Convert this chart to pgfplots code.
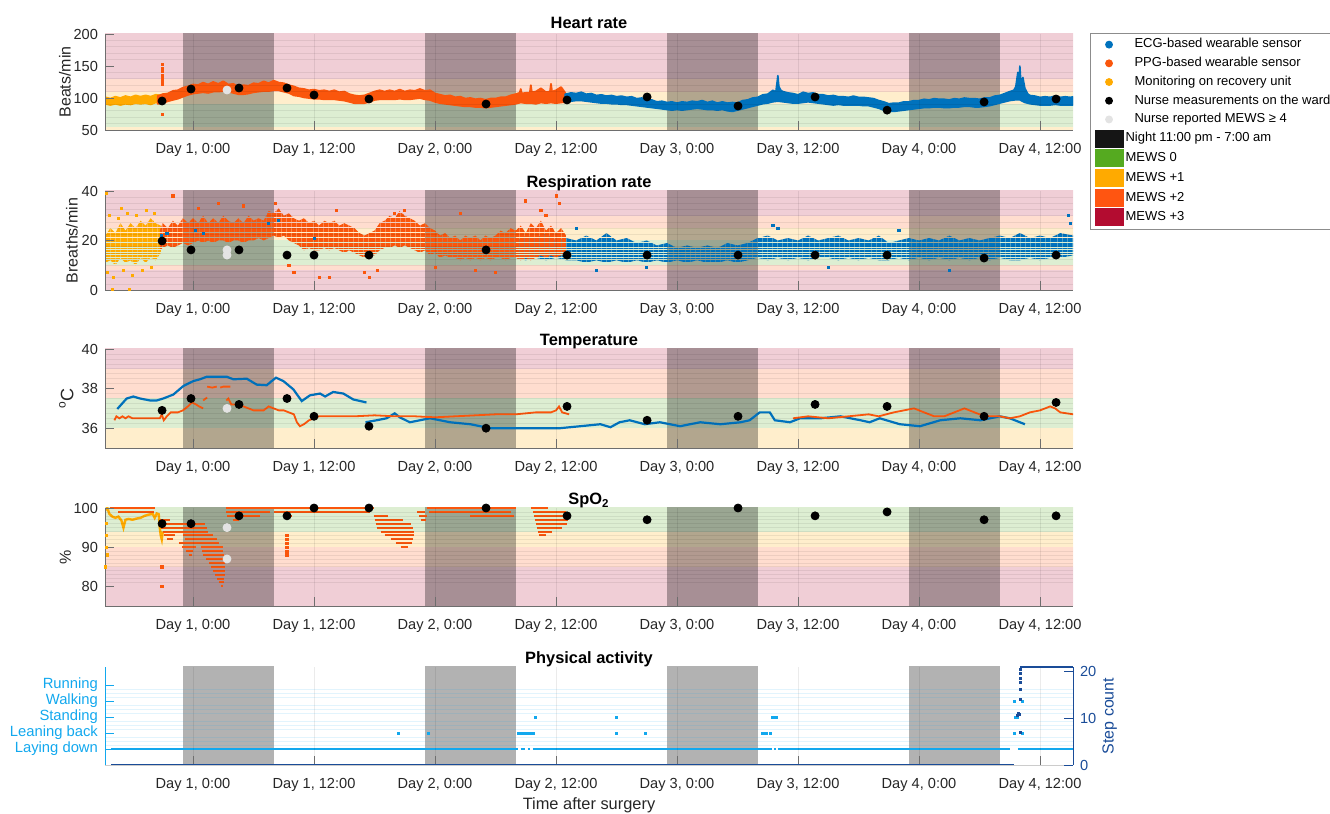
\documentclass[border=0pt]{standalone}
\usepackage{fontspec}
\setmainfont{Liberation Sans}
\usepackage{pgfplots}
\pgfplotsset{compat=1.18}
\usetikzlibrary{patterns.meta}
\definecolor{ecgblue}{HTML}{0072BD}
\definecolor{ppgorange}{HTML}{FA560C}
\definecolor{recyellow}{HTML}{FFAA00}
\definecolor{greydot}{HTML}{E3E3E3}
\definecolor{night}{HTML}{151515}
\definecolor{mewsz}{HTML}{55AA20}
\definecolor{mewsa}{HTML}{FFAA00}
\definecolor{mewsb}{HTML}{FF5511}
\definecolor{mewsc}{HTML}{B30C30}
\definecolor{ticktext}{HTML}{262626}
\definecolor{axisgray}{HTML}{6E6E6E}
\definecolor{actblue}{HTML}{12A8EE}
\definecolor{stepblue}{HTML}{1A4C98}
\newcommand{\band}[3]{\addplot[fill=#1!20!white, draw=none, forget plot] coordinates {(-20,#2) (100,#2) (100,#3) (-20,#3)} --cycle;}
\newcommand{\nights}[2]{%
\addplot[fill=black, fill opacity=0.3, draw=none, forget plot] coordinates {(-1,#1) (8,#1) (8,#2) (-1,#2)} --cycle;
\addplot[fill=black, fill opacity=0.3, draw=none, forget plot] coordinates {(23,#1) (32,#1) (32,#2) (23,#2)} --cycle;
\addplot[fill=black, fill opacity=0.3, draw=none, forget plot] coordinates {(47,#1) (56,#1) (56,#2) (47,#2)} --cycle;
\addplot[fill=black, fill opacity=0.3, draw=none, forget plot] coordinates {(71,#1) (80,#1) (80,#2) (71,#2)} --cycle;}
\pgfplotsset{
 panel/.style={
  scale only axis, width=484pt, height=49pt,
  xmin=-8.73, xmax=87.27,
  xtick={0,12,24,36,48,60,72,84},
  xticklabels={{Day 1, 0:00},{Day 1, 12:00},{Day 2, 0:00},{Day 2, 12:00},{Day 3, 0:00},{Day 3, 12:00},{Day 4, 0:00},{Day 4, 12:00}},
  axis x line*=bottom, axis y line*=left,
  tick align=inside, major tick length=4.5pt, minor tick length=0pt,
  tick style={axisgray, line width=0.4pt},
  axis line style={axisgray, line width=0.45pt},
  tick label style={font=\fontsize{7.3}{8}\selectfont, text=ticktext},
  xticklabel style={yshift=-3pt},
  label style={font=\fontsize{8}{9}\selectfont, text=ticktext},
  title style={font=\bfseries\fontsize{8.2}{9}\selectfont, at={(0.5,1)}, anchor=base, yshift=-4.5pt, text=black},
  xmajorgrids, major grid style={black, opacity=0.08, line width=0.3pt},
  yminorgrids, minor grid style={black, opacity=0.07, line width=0.3pt},
  axis on top, unbounded coords=jump,
  /pgf/number format/assume math mode=true,
  ylabel style={anchor=center},
 },
 dots/.style={only marks, mark=*, mark size=2pt, forget plot},
 rrpat/.style={draw=none, pattern={Lines[angle=0,distance=1.24pt,line width=0.92pt]}, pattern color=#1, forget plot},
}
\begin{document}
\begin{tikzpicture}
\useasboundingbox (0,0) rectangle (665pt,407pt);
%================ HEART RATE
\begin{axis}[panel, at={(52.5pt,342pt)}, anchor=south west, height=48pt,
  ymin=50, ymax=200, ytick={50,100,150,200}, minor y tick num=4,
  ylabel={Beats/min}, ylabel style={at={(axis description cs:-0.0413,0.5)}},
  title={Heart rate}, title style={yshift=1pt},
  legend style={at={(1.0176,1.01)}, anchor=north west, font=\fontsize{6.5}{7}\selectfont,
    draw=black!45, line width=0.5pt, inner xsep=2pt, inner ysep=1.3pt, row sep=0.85pt,
    nodes={inner ysep=1pt, inner xsep=1pt, text height=4.9pt, text depth=1.6pt}},
  legend cell align=left]
\band{mewsa}{40}{55}
\band{mewsz}{55}{90}
\band{mewsa}{90}{110}
\band{mewsb}{110}{130}
\band{mewsc}{130}{210}
\nights{40}{210}
% recovery unit
\addplot[fill=recyellow, draw=recyellow, line width=0.9pt, line join=round, forget plot] coordinates {
(-8.7,101)(-8.2,99)(-7.7,102)(-7.2,100)(-6.7,103)(-6.2,101)(-5.7,104)(-5.2,102)(-4.7,104)(-4.2,102)(-3.7,105)(-3.2,104)
(-3.2,92)(-3.7,93)(-4.2,90)(-4.7,92)(-5.2,91)(-5.7,92)(-6.2,90)(-6.7,91)(-7.2,89)(-7.7,91)(-8.2,89)(-8.7,91)} --cycle;
% PPG
\addplot[fill=ppgorange, draw=ppgorange, line width=0.9pt, line join=round, forget plot] coordinates {
(-3.5,103)(-3.0,106)(-2.5,107)(-2.0,111)(-1.5,112)(-1.0,116)(-0.5,118)(0.0,121)(0.5,120)(1.0,124)(1.5,121)(2.0,125)(2.5,122)(3.0,126)(3.5,121)(4.0,122)(4.5,117)(5.0,120)(5.5,119)(6.0,123)(6.5,122)(7.0,126)(7.5,123)(8.0,127)(8.5,124)(9.0,123)(9.5,120)(10.0,118)(10.5,115)(11.0,114)(11.5,112)(12.0,113)(12.5,111)(13.0,112)(13.5,110)(14.0,112)(14.5,109)(15.0,110)(15.5,106)(16.0,104)(16.5,103)(17.0,104)(17.5,107)(18.0,110)(18.5,112)(19.0,110)(19.5,112)(20.0,110)(20.5,113)(21.0,110)(21.5,112)(22.0,111)(22.5,114)(23.0,111)(23.5,112)(24.0,107)(24.5,105)(25.0,103)(25.5,104)(26.0,101)(26.5,102)(27.0,99)(27.5,100)(28.0,98)(28.5,99)(29.0,97)(29.5,99)(30.0,99)(30.5,101)(31.0,101)(31.5,104)(32.0,106)(32.4,108)(32.5,114)(32.6,107)(33.0,108)(33.4,108)(33.5,120)(33.6,109)(34.0,110)(34.5,115)(35.0,109)(35.4,110)(35.5,122)(35.6,110)(36.0,112)(36.5,117)(37.0,106)
(37.0,94)(36.5,93)(36.0,92)(35.5,93)(35.0,92)(34.5,93)(34.0,91)(33.5,92)(33.0,92)(32.5,93)(32.0,91)(31.5,90)(31.0,89)(30.5,88)(30.0,87)(29.5,86)(29.0,85)(28.5,86)(28.0,86)(27.5,87)(27.0,87)(26.5,88)(26.0,89)(25.5,90)(25.0,91)(24.5,92)(24.0,94)(23.5,97)(23.0,98)(22.5,100)(22.0,99)(21.5,98)(21.0,98)(20.5,99)(20.0,98)(19.5,98)(19.0,98)(18.5,98)(18.0,97)(17.5,94)(17.0,92)(16.5,92)(16.0,92)(15.5,94)(15.0,96)(14.5,97)(14.0,98)(13.5,98)(13.0,98)(12.5,99)(12.0,99)(11.5,100)(11.0,101)(10.5,103)(10.0,104)(9.5,108)(9.0,110)(8.5,112)(8.0,112)(7.5,111)(7.0,111)(6.5,110)(6.0,109)(5.5,107)(5.0,106)(4.5,106)(4.0,108)(3.5,110)(3.0,111)(2.5,110)(2.0,110)(1.5,108)(1.0,109)(0.5,108)(0.0,107)(-0.5,105)(-1.0,102)(-1.5,99)(-2.0,97)(-2.5,95)(-3.0,92)(-3.5,91)} --cycle;
\addplot[only marks, mark=square*, mark size=0.5pt, ppgorange, forget plot] coordinates {(-3.0,152)(-3.0,147)(-3.0,141)(-3.0,136)(-3.0,131)(-3.0,126)(-3.0,121)(-3.0,75)};
% ECG
\addplot[fill=ecgblue, draw=ecgblue, line width=0.8pt, line join=round, forget plot] coordinates {
(36.9,106)(37.5,108)(38.0,107)(38.5,109)(39.0,106)(39.5,107)(40.0,104)(40.5,105)(41.0,103)(41.5,104)(42.0,102)(42.5,103)(43.0,101)(43.5,102)(44.0,99)(44.5,100)(45.0,97)(45.5,97)(46.0,94)(46.5,95)(47.0,93)(47.5,94)(48.0,92)(48.5,94)(49.0,93)(49.5,95)(50.0,94)(50.5,96)(51.0,93)(51.5,95)(52.0,92)(52.5,94)(53.0,92)(53.5,93)(54.0,92)(54.5,96)(55.0,97)(55.5,100)(56.0,101)(56.5,105)(57.0,106)(57.5,112)(57.8,110)(57.9,122)(58.0,135)(58.1,118)(58.3,112)(58.5,110)(59.0,108)(59.5,107)(60.0,105)(60.5,109)(61.0,107)(61.5,108)(62.0,105)(62.5,105)(63.0,103)(63.5,104)(64.0,102)(64.5,102)(65.0,101)(65.5,103)(66.0,101)(66.5,101)(67.0,100)(67.5,99)(68.0,96)(68.5,94)(69.0,91)(69.5,92)(70.0,92)(70.5,94)(71.0,94)(71.5,96)(72.0,96)(72.5,98)(73.0,97)(73.5,99)(74.0,98)(74.5,98)(75.0,97)(75.5,99)(76.0,98)(76.5,100)(77.0,99)(77.5,99)(78.0,98)(78.5,100)(79.0,100)(79.5,103)(80.0,104)(80.5,107)(81.0,110)(81.4,112)(81.6,118)(81.8,140)(81.9,122)(82.0,150)(82.1,125)(82.3,132)(82.5,115)(82.8,106)(83.0,104)(83.5,103)(84.0,101)(84.5,102)(85.0,101)(85.5,103)(86.0,101)(86.5,102)(87.0,101)(87.3,102)
(87.3,89)(87.0,89)(86.5,89)(86.0,89)(85.5,90)(85.0,89)(84.5,89)(84.0,89)(83.5,90)(83.0,91)(82.5,93)(82.0,97)(81.5,97)(81.0,96)(80.5,94)(80.0,92)(79.5,90)(79.0,88)(78.5,87)(78.0,86)(77.5,86)(77.0,87)(76.5,87)(76.0,86)(75.5,86)(75.0,85)(74.5,85)(74.0,86)(73.5,86)(73.0,85)(72.5,85)(72.0,84)(71.5,83)(71.0,82)(70.5,81)(70.0,80)(69.5,79)(69.0,79)(68.5,81)(68.0,84)(67.5,86)(67.0,88)(66.5,88)(66.0,89)(65.5,89)(65.0,89)(64.5,89)(64.0,90)(63.5,89)(63.0,90)(62.5,91)(62.0,92)(61.5,93)(61.0,94)(60.5,93)(60.0,92)(59.5,92)(59.0,93)(58.5,94)(58.0,95)(57.5,94)(57.0,92)(56.5,91)(56.0,89)(55.5,87)(55.0,85)(54.5,83)(54.0,81)(53.5,79)(53.0,80)(52.5,82)(52.0,81)(51.5,82)(51.0,82)(50.5,83)(50.0,84)(49.5,83)(49.0,82)(48.5,81)(48.0,82)(47.5,81)(47.0,82)(46.5,83)(46.0,84)(45.5,85)(45.0,86)(44.5,87)(44.0,88)(43.5,89)(43.0,90)(42.5,90)(42.0,91)(41.5,91)(41.0,92)(40.5,92)(40.0,93)(39.5,94)(39.0,95)(38.5,96)(38.0,96)(37.5,95)(36.9,94)} --cycle;
\addplot[dots, black] coordinates {(-3.07,95.3)(-0.2,114)(4.56,115.6)(9.32,115.6)(12.0,104.7)(17.45,98.4)(29.06,90.6)(37.09,96.9)(45.03,101.6)(54.05,87.5)(61.69,101.6)(68.83,81)(78.45,93.8)(85.59,98.4)};
\addplot[dots, greydot] coordinates {(3.37,112.5)};
% legend
\addlegendimage{legend image code/.code={\path[draw=none] (0pt,-4.25pt) rectangle (14pt,4.25pt); \fill[ecgblue] (7pt,0pt) circle (1.7pt);}}
\addlegendentry{\hspace{4.5pt}ECG-based wearable sensor}
\addlegendimage{legend image code/.code={\path[draw=none] (0pt,-4.25pt) rectangle (14pt,4.25pt); \fill[ppgorange] (7pt,0pt) circle (1.7pt);}}
\addlegendentry{\hspace{4.5pt}PPG-based wearable sensor}
\addlegendimage{legend image code/.code={\path[draw=none] (0pt,-4.25pt) rectangle (14pt,4.25pt); \fill[recyellow] (7pt,0pt) circle (1.7pt);}}
\addlegendentry{\hspace{4.5pt}Monitoring on recovery unit}
\addlegendimage{legend image code/.code={\path[draw=none] (0pt,-4.25pt) rectangle (14pt,4.25pt); \fill[black] (7pt,0pt) circle (1.7pt);}}
\addlegendentry{\hspace{4.5pt}Nurse measurements on the ward}
\addlegendimage{legend image code/.code={\path[draw=none] (0pt,-4.25pt) rectangle (14pt,4.25pt); \fill[greydot] (7pt,0pt) circle (1.7pt);}}
\addlegendentry{\hspace{4.5pt}Nurse reported MEWS ≥ 4}
\addlegendimage{legend image code/.code={\fill[night] (0pt,-4.25pt) rectangle (14pt,4.25pt);}}
\addlegendentry{Night 11:00 pm - 7:00 am}
\addlegendimage{legend image code/.code={\fill[mewsz] (0pt,-4.25pt) rectangle (14pt,4.25pt);}}
\addlegendentry{MEWS 0}
\addlegendimage{legend image code/.code={\fill[mewsa] (0pt,-4.25pt) rectangle (14pt,4.25pt);}}
\addlegendentry{MEWS +1}
\addlegendimage{legend image code/.code={\fill[mewsb] (0pt,-4.25pt) rectangle (14pt,4.25pt);}}
\addlegendentry{MEWS +2}
\addlegendimage{legend image code/.code={\fill[mewsc] (0pt,-4.25pt) rectangle (14pt,4.25pt);}}
\addlegendentry{MEWS +3}
\end{axis}
%================ RESPIRATION
\begin{axis}[panel, at={(52.5pt,262pt)}, anchor=south west, height=49.5pt,
  ymin=0, ymax=40, ytick={0,20,40}, minor y tick num=7,
  ylabel={Breaths/min}, ylabel style={at={(axis description cs:-0.0341,0.5)}},
  title={Respiration rate}]
\band{mewsc}{-5}{8}
\band{mewsb}{8}{10}
\band{mewsz}{10}{20}
\band{mewsa}{20}{25}
\band{mewsb}{25}{30}
\band{mewsc}{30}{45}
\nights{-5}{45}
\addplot[rrpat=recyellow] coordinates {
(-8.7,22)(-8.2,25)(-7.7,23)(-7.2,27)(-6.7,24)(-6.2,27)(-5.7,25)(-5.2,28)(-4.7,26)(-4.2,29)(-3.7,27)(-3.2,26)
(-3.2,15)(-3.7,12)(-4.2,13)(-4.7,11)(-5.2,13)(-5.7,10)(-6.2,12)(-6.7,11)(-7.2,13)(-7.7,10)(-8.2,12)(-8.7,11)} --cycle;
\addplot[only marks, mark=square*, mark size=0.55pt, recyellow, forget plot] coordinates {(-8.5,7)(-8.3,30)(-7.9,5)(-7.4,29)(-6.9,8)(-6.5,31)(-6.0,6)(-5.6,30)(-5.0,8)(-4.6,32)(-4.1,9)(-3.8,31)(-8.0,0.3)(-6.3,0.3)(-8.6,39)(-7.1,33)};
\addplot[rrpat=ecgblue] coordinates {
(32,20)(33,22)(34,21)(35,23)(36,20)(37,21)(38,20)(39,22)(40,20)(41,23)(42,20)(43,21)(44,19)(45,20)(46,18)(47,19)(48,17)(49,18)(50,17)(51,18)(52,17)(53,19)(54,18)(55,19)(56,21)(57,22)(58,20)(59,21)(60,20)(61,22)(62,20)(63,21)(64,22)(65,20)(66,21)(67,20)(68,22)(69,19)(70,20)(71,21)(72,20)(73,21)(74,20)(75,22)(76,20)(77,21)(78,20)(79,21)(80,22)(81,21)(82,23)(83,21)(84,22)(85,21)(86,23)(87.3,22)
(87.3,14)(86,13)(85,13)(84,12)(83,13)(82,12)(81,12)(80,13)(79,12)(78,13)(77,12)(76,13)(75,12)(74,13)(73,12)(72,13)(71,12)(70,13)(69,12)(68,12)(67,13)(66,12)(65,13)(64,12)(63,13)(62,13)(61,12)(60,13)(59,12)(58,13)(57,12)(56,13)(55,12)(54,11)(53,12)(52,11)(51,11)(50,12)(49,11)(48,12)(47,11)(46,12)(45,11)(44,12)(43,11)(42,12)(41,11)(40,12)(39,11)(38,12)(37,12)(36,13)(35,12)(34,13)(33,12)(32,13)} --cycle;
\addplot[rrpat=ppgorange] coordinates {
(-3.3,24)(-3.0,27)(-2.5,25)(-2.0,28)(-1.5,26)(-1.0,29)(-0.5,27)(0.0,29)(0.5,27)(1.0,30)(1.5,27)(2.0,29)(2.5,27)(3.0,30)(3.5,28)(4.0,27)(4.5,29)(5.0,27)(5.5,30)(6.0,28)(6.5,29)(7.0,28)(7.5,32)(8.0,31)(8.5,33)(9.0,30)(9.5,31)(10.0,29)(10.5,28)(11.0,29)(11.5,27)(12.0,28)(12.5,26)(13.0,28)(13.5,27)(14.0,28)(14.5,26)(15.0,27)(15.5,26)(16.0,25)(16.5,23)(17.0,22)(17.5,23)(18.0,24)(18.5,27)(19.0,28)(19.5,30)(20.0,29)(20.5,32)(21.0,30)(21.5,29)(22.0,28)(22.5,26)(23.0,27)(23.5,25)(24.0,24)(24.5,22)(25.0,23)(25.5,21)(26.0,22)(26.5,20)(27.0,22)(27.5,21)(28.0,22)(28.5,20)(29.0,22)(29.5,21)(30.0,22)(30.5,24)(31.0,23)(31.5,25)(32.0,24)(32.5,26)(33.0,23)(33.5,27)(34.0,25)(34.5,28)(35.0,24)(35.5,26)(36.0,23)(36.5,25)(37.0,22)
(37.0,14)(36.5,14)(36.0,13)(35.5,14)(35.0,13)(34.5,14)(34.0,13)(33.5,12)(33.0,13)(32.5,12)(32.0,13)(31.5,13)(31.0,12)(30.5,13)(30.0,13)(29.5,12)(29.0,13)(28.5,12)(28.0,13)(27.5,12)(27.0,13)(26.5,12)(26.0,13)(25.5,13)(25.0,14)(24.5,13)(24.0,15)(23.5,14)(23.0,16)(22.5,15)(22.0,16)(21.5,17)(21.0,18)(20.5,17)(20.0,18)(19.5,17)(19.0,17)(18.5,16)(18.0,14)(17.5,14)(17.0,13)(16.5,14)(16.0,15)(15.5,16)(15.0,15)(14.5,16)(14.0,17)(13.5,16)(13.0,17)(12.5,16)(12.0,16)(11.5,17)(11.0,16)(10.5,18)(10.0,19)(9.5,20)(9.0,22)(8.5,21)(8.0,22)(7.5,21)(7.0,20)(6.5,21)(6.0,20)(5.5,20)(5.0,19)(4.5,20)(4.0,20)(3.5,19)(3.0,20)(2.5,20)(2.0,19)(1.5,20)(1.0,19)(0.5,20)(0.0,19)(-0.5,18)(-1.0,19)(-1.5,18)(-2.0,17)(-2.5,18)(-3.0,17)(-3.3,16)} --cycle;
\addplot[only marks, mark=square*, mark size=0.55pt, ppgorange, forget plot] coordinates {(-2.0,38)(0.5,33)(2.5,35)(5.0,34)(8.2,35)(9.5,10)(10.0,7)(12.5,5)(13.5,5)(14.2,32)(17.0,7)(17.5,5)(18.3,8)(20.0,31)(21.0,32)(24.0,9)(28.0,8)(33.0,36)(34.5,32)(35.0,30)(36.0,38)(36.3,35)(30.0,7)(26.5,31)};
\addplot[only marks, mark=square*, mark size=0.55pt, ecgblue, forget plot] coordinates {(0.2,24)(1.0,23)(7.5,27)(8.5,28)(12.0,21)(38,25)(40,8)(45,9)(57.5,26)(58,25)(70,24)(86.8,30)(87,27)(63,9)(75,8)(-3.1,22)(-2.6,23)};
\addplot[dots, black] coordinates {(-3.07,19.8)(-0.2,16.2)(4.56,16.2)(9.32,14.1)(12.0,14.1)(17.45,14.1)(29.06,16.2)(37.09,14.1)(45.03,14.1)(54.05,14.1)(61.69,14.1)(68.83,14.1)(78.45,12.9)(85.59,14.1)};
\addplot[dots, greydot] coordinates {(3.37,16.2)(3.37,14.1)};
\end{axis}
%================ TEMPERATURE
\begin{axis}[panel, at={(52.5pt,183pt)}, anchor=south west, height=49.5pt,
  ymin=35, ymax=40, ytick={36,38,40}, minor y tick num=7,
  ylabel={\textsuperscript{o}C}, ylabel style={at={(axis description cs:-0.04,0.5)}, font=\fontsize{9}{10}\selectfont},
  title={Temperature}]
\band{mewsa}{34}{36}
\band{mewsz}{36}{37.5}
\band{mewsb}{37.5}{39}
\band{mewsc}{39}{41}
\nights{34}{41}
\addplot[ecgblue, line width=1.1pt, forget plot] coordinates {
(-7.51,36.97)(-6.58,37.5)(-5.92,37.6)(-5.26,37.5)(-4.26,37.4)(-3.6,37.4)(-2.95,37.5)(-1.95,37.7)(-0.96,38.13)(0.03,38.38)(0.69,38.47)(1.36,38.6)(3.34,38.6)(4.0,38.47)(5.33,38.5)(6.32,38.2)(7.31,38.17)(7.8,38.38)(8.23,38.55)(8.96,38.38)(9.95,37.96)(10.78,37.37)(11.6,37.66)(12.6,37.75)(13.1,37.6)(13.9,37.83)(14.9,37.75)(15.9,37.45)(17.2,37.3)
(17.15,nan)
(17.1,36.3)(18.2,36.4)(19.2,36.5)(20.0,36.75)(20.5,36.55)(21.5,36.3)(22.5,36.4)(23.5,36.5)(24.5,36.4)(25.5,36.3)(27.5,36.2)(28.5,36.1)(29.5,36.0)(33,36.0)(36.4,36.0)(37.4,36.05)(40.4,36.2)(41.4,36.05)(42.3,36.3)(43.3,36.4)(44.8,36.2)(46.3,36.3)(48.3,36.1)(50.3,36.3)(52.3,36.2)(54.3,36.3)(55.2,36.4)(56.2,36.8)(57.2,36.8)(57.7,36.4)(59.2,36.3)(60.2,36.5)(62.2,36.5)(64.2,36.6)(66.2,36.4)(67.1,36.3)(68.1,36.5)(70.1,36.2)(72.1,36.1)(74.1,36.4)(76.1,36.5)(78.1,36.4)(80.0,36.6)(81.0,36.5)(82.5,36.2)};
\addplot[ppgorange, line width=0.9pt, forget plot] coordinates {
(-7.8,36.4)(-7.6,36.6)(-7.3,36.5)(-7.0,36.6)(-6.7,36.5)(-6.4,36.6)(-6.0,36.5)(-5.0,36.5)(-4.0,36.5)(-3.3,36.5)(-3.1,36.7)(-2.9,36.4)(-2.6,36.6)(-2.2,36.8)(-1.5,36.8)(-1.0,36.9)(-0.5,37.1)(-0.1,37.3)(0.3,37.2)(0.6,37.1)(1.0,37.0)
(1.0,nan)
(1.0,37.4)(1.4,37.55)
(1.4,nan)
(1.4,38.1)(1.9,38.05)(2.35,38.1)
(2.5,nan)
(2.7,38.05)(3.0,38.1)(3.7,38.1)
(3.7,nan)
(3.3,37.4)(3.5,37.5)(3.8,37.2)(4.5,37.2)(5.0,37.1)(5.5,37.0)(6.0,36.9)(7.0,36.9)(7.5,37.1)(8.0,37.0)(8.5,36.9)(9.0,36.9)(9.5,36.8)(10.0,36.7)(10.3,36.3)(10.6,36.1)(11.0,36.2)(11.5,36.4)(12.0,36.5)(12.5,36.6)(14,36.6)(16,36.6)(18,36.65)(20,36.6)(22,36.6)(24,36.55)(26,36.6)(28,36.65)(30,36.7)(32,36.7)(34,36.8)(35.5,36.8)(36.0,36.9)(36.3,37.1)(36.6,36.8)(37.3,36.7)
(40,nan)
(59.5,36.5)(61,36.6)(63,36.5)(65,36.6)(67,36.7)(68,36.6)(69.5,36.8)(70.5,36.9)(71.5,37.0)(72.5,36.8)(73.5,36.6)(74.5,36.6)(75.5,36.8)(76.5,37.0)(77,36.9)(78,36.7)(79,36.6)(80,36.6)(81,36.5)(82,36.6)(83,36.8)(84,36.9)(85,37.1)(85.5,37.0)(86,36.8)(87.3,36.7)};
\addplot[dots, black] coordinates {(-3.07,36.9)(-0.2,37.5)(4.56,37.2)(9.32,37.5)(12.0,36.6)(17.45,36.1)(29.06,36.0)(37.09,37.1)(45.03,36.4)(54.05,36.6)(61.69,37.2)(68.83,37.1)(78.45,36.6)(85.59,37.3)};
\addplot[dots, greydot] coordinates {(3.37,37.0)};
\end{axis}
%================ SpO2
\begin{axis}[panel, at={(52.5pt,104pt)}, anchor=south west, height=49pt,
  ymin=75, ymax=100, ytick={80,90,100}, minor y tick num=9,
  ylabel={\%}, ylabel style={at={(axis description cs:-0.041,0.5)}},
  title={SpO\textsubscript{2}}]
\band{mewsc}{70}{85}
\band{mewsb}{85}{90}
\band{mewsa}{90}{94}
\band{mewsz}{94}{101}
\nights{70}{101}
\addplot[recyellow, line width=1.2pt, forget plot] coordinates {(-8.7,99.5)(-8.5,100)(-8.3,98.5)(-8.0,97.8)(-7.7,97.5)(-7.4,97.8)(-7.1,96.8)(-6.9,95.0)(-6.7,97.0)(-6.4,97.2)(-6.0,97.0)(-5.6,97.3)(-5.2,97.5)(-4.8,98.0)(-4.4,98.3)(-4.0,98.5)(-3.8,97.5)(-3.6,98.6)(-3.4,98.4)(-3.3,95)(-3.2,93)(-3.1,92)(-3.0,94)};
\addplot[only marks, mark=square*, mark size=0.6pt, recyellow, forget plot] coordinates {(-8.6,96)(-8.6,93)(-8.6,90)(-8.5,88)(-8.7,85)};
\addplot[ppgorange, line width=1pt, forget plot] coordinates {
(-8.2,100)(-3.8,100)(0,nan)(3.3,100)(17.9,100)(20,nan)(23.2,100)(32.0,100)(33,nan)(33.5,100)(35.2,100)(36,nan)
(-7.4,99)(-3.9,99)(0,nan)(3.3,99)(7.6,99)(7.8,nan)(8.0,99)(17.6,99)(20,nan)(22.2,99)(23.0,99)(23.2,nan)(23.4,99)(31.5,99)(33,nan)(33.7,99)(37.0,99)(38,nan)
(3.4,98)(6.6,98)(7,nan)(9.2,98)(9.8,98)(10,nan)(17.9,98)(19.3,98)(20,nan)(22.4,98)(23.2,98)(25,nan)(27.5,98)(31.8,98)(33,nan)(33.8,98)(37.2,98)(38,nan)
(-3.3,97)(-2.3,97)(0,nan)(4.0,97)(4.6,97)(5,nan)(18.0,97)(20.8,97)(22,nan)(22.6,97)(23.1,97)(25,nan)(33.9,97)(37.2,97)(38,nan)
(-3.3,96)(1.2,96)(2,nan)(18.1,96)(21.6,96)(25,nan)(34.0,96)(37.1,96)(38,nan)
(-3.2,95)(1.4,95)(2,nan)(18.2,95)(21.8,95)(25,nan)(34.1,95)(36.6,95)(38,nan)
(-3.0,94)(1.5,94)(2,nan)(18.6,94)(21.9,94)(25,nan)(34.2,94)(35.6,94)(38,nan)
(-2.9,93)(-1.8,93)(-1.5,nan)(-1.0,93)(2.0,93)(3,nan)(19.0,93)(21.9,93)(25,nan)(34.3,93)(35.0,93)(38,nan)
(-2.6,92)(-2.0,92)(-1.5,nan)(-0.8,92)(2.4,92)(3,nan)(19.6,92)(21.8,92)(25,nan)
(-1.4,91)(2.6,91)(3,nan)(20.1,91)(21.7,91)(25,nan)
(-1.1,90)(0.3,90)(0.5,nan)(0.8,90)(3.0,90)(4,nan)(20.6,90)(21.3,90)(25,nan)
(-0.7,89)(0.0,89)(0.5,nan)(0.9,89)(3.0,89)(4,nan)
(-0.4,88)(-0.1,88)(0.5,nan)(1.0,88)(3.1,88)(4,nan)
(1.3,87)(3.2,87)(4,nan)(1.6,86)(3.2,86)(4,nan)(1.8,85)(3.2,85)(4,nan)(2.0,84)(3.2,84)(4,nan)
(2.2,83)(3.2,83)(4,nan)(2.4,82)(3.1,82)(4,nan)(2.6,81)(3.1,81)(4,nan)(2.8,80)(3.0,80)};
\addplot[only marks, mark=square*, mark size=0.6pt, ppgorange, forget plot] coordinates {(-3.1,85)(-3.1,80)(9.3,93)(9.3,92)(9.3,91)(9.3,90)(9.3,89)(9.3,88)};
\addplot[dots, black] coordinates {(-3.07,96)(-0.2,96)(4.56,98)(9.32,98)(12.0,100)(17.45,100)(29.06,100)(37.09,98)(45.03,97)(54.05,100)(61.69,98)(68.83,99)(78.45,97)(85.59,98)};
\addplot[dots, greydot] coordinates {(3.37,95)(3.37,87)};
\end{axis}
%================ PHYSICAL ACTIVITY
\begin{axis}[panel, at={(52.5pt,24.5pt)}, anchor=south west, height=49pt,
  ymin=0, ymax=6.125, ytick={1,2,3,4,5},
  yticklabels={Laying down,Leaning back,Standing,Walking,Running},
  yticklabel style={text=actblue, font=\fontsize{7.4}{8}\selectfont},
  y axis line style={actblue}, ytick style={actblue},
  x axis line style={black!20},
  minor y tick num=3, minor grid style={actblue, opacity=0.12, line width=0.3pt},
  xlabel={Time after surgery},
  xlabel style={at={(axis description cs:0.5,0)}, anchor=north, yshift=-13pt, font=\fontsize{8.2}{9}\selectfont},
  title={Physical activity}]
\nights{-1}{7}
\addplot[actblue, line width=0.9pt, forget plot] coordinates {(-8.1,1)(32.2,1)(32.3,nan)(32.5,1)(32.9,1)(33.0,nan)(33.2,1)(33.4,1)(33.5,nan)(33.7,1)(57.4,1)(57.5,nan)(57.6,1)(57.8,1)(57.9,nan)(58.0,1)(81.0,1)(81.4,nan)(81.8,1)(87.3,1)};
\addplot[only marks, mark=square*, mark size=0.5pt, actblue, forget plot] coordinates {(20.4,2)(23.3,2)(32.3,2)(32.5,2)(32.7,2)(32.9,2)(33.1,2)(33.3,2)(33.5,2)(33.8,2)(42.0,2)(44.9,2)(56.5,2)(56.7,2)(56.9,2)(57.3,2)(81.5,2)(82.3,2)
(34.0,3)(42.0,3)(57.5,3)(57.7,3)(57.9,3)(81.6,3)(81.8,3)(81.5,4)(82.3,4)};
\end{axis}
\begin{axis}[scale only axis, width=484pt, height=49pt, at={(52.5pt,24.5pt)}, anchor=south west,
  xmin=-8.73, xmax=87.27, ymin=0, ymax=20.85, ytick={0,10,20},
  axis x line=none, axis y line*=right, unbounded coords=jump,
  tick align=inside, major tick length=4.5pt,
  y axis line style={stepblue, line width=0.45pt}, ytick style={stepblue, line width=0.4pt},
  yticklabel style={text=stepblue, font=\fontsize{7.3}{8}\selectfont},
  /pgf/number format/assume math mode=true,
  ylabel={Step count}, ylabel style={text=stepblue, font=\fontsize{8}{9}\selectfont, at={(axis description cs:1.038,0.5)}, anchor=center}]
\addplot[stepblue, line width=0.9pt, forget plot] coordinates {(-8.1,0)(81.4,0)(81.8,nan)(82.0,20.8)(87.3,20.8)};
\addplot[only marks, mark=square*, mark size=0.5pt, stepblue, forget plot] coordinates {(82.1,7)(81.8,10.5)(81.9,11)(82.0,10.8)(82.1,14)(82.1,16)(82.1,17.5)(82.1,18.5)(82.1,19.5)(82.1,20.4)};
\end{axis}
\end{tikzpicture}
\end{document}
